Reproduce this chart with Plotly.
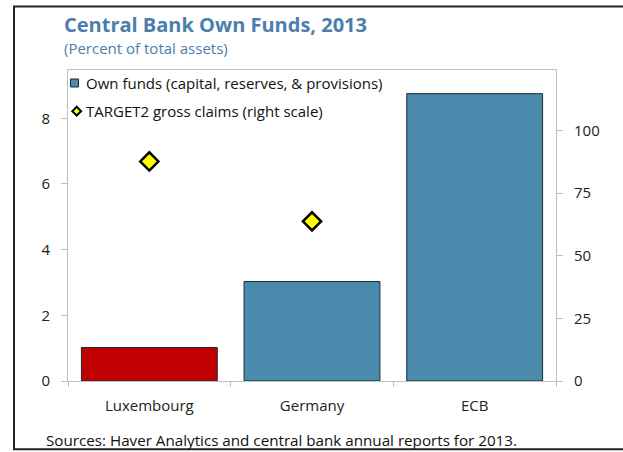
import plotly.graph_objects as go

categories = ["Luxembourg", "Germany", "ECB"]
own_funds = [1.02, 3.03, 8.75]
target2_cats = ["Luxembourg", "Germany"]
target2_claims = [87.6, 63.7]
bar_colors = ["#c00000", "#4a8aad", "#4a8aad"]
legend_labels = ["Own funds (capital, reserves, & provisions)", "TARGET2 gross claims (right scale)"]

W, H = 623, 452
L, R, T, B = 68, 556, 69.5, 380.7
FONT = "Open Sans"

def px(x):
    return (x - L) / (R - L)

def py(y):
    return (B - y) / (B - T)

fig = go.Figure()
fig.add_trace(go.Bar(
    x=categories, y=own_funds, name=legend_labels[0],
    marker=dict(color=bar_colors, line=dict(color="#1f2a30", width=1)),
    width=0.835, yaxis="y", showlegend=False,
))
fig.add_trace(go.Scatter(
    x=target2_cats, y=target2_claims, mode="markers", name=legend_labels[1],
    marker=dict(symbol="diamond", size=14, color="#ffff00", line=dict(color="#000000", width=2.5)),
    yaxis="y2", showlegend=False,
))

fig.update_layout(
    width=W, height=H,
    margin=dict(l=L, r=W - R, t=T, b=H - B),
    paper_bgcolor="white", plot_bgcolor="white",
    font=dict(family=FONT, size=15, color="#222222"),
    showlegend=False,
    xaxis=dict(showline=True, linecolor="#bfbfbf", linewidth=1, mirror=True,
               ticks="outside", tickson="boundaries", ticklen=5, tickcolor="#bfbfbf",
               showgrid=False, tickfont=dict(size=15, color="#222222"), ticklabelstandoff=11),
    yaxis=dict(range=[0, 9.47], tickvals=[0, 2, 4, 6, 8], showgrid=False, zeroline=False,
               showline=True, linecolor="#bfbfbf", linewidth=1,
               ticks="outside", ticklen=6, tickcolor="#bfbfbf",
               tickfont=dict(size=15, color="#222222"), ticklabelstandoff=8),
    yaxis2=dict(range=[0, 124.1], tickvals=[0, 25, 50, 75, 100], overlaying="y", side="right",
                showgrid=False, zeroline=False, showline=True, linecolor="#bfbfbf", linewidth=1,
                ticks="outside", ticklen=6, tickcolor="#bfbfbf",
                tickfont=dict(size=15, color="#222222"), ticklabelstandoff=8),
)

# titles and source
fig.add_annotation(xref="paper", yref="paper", x=px(62), y=py(24), xanchor="left", yanchor="middle",
                   text="<b>Central Bank Own Funds, 2013</b>", showarrow=False,
                   font=dict(family=FONT, size=20, color="#4a7ead"))
fig.add_annotation(xref="paper", yref="paper", x=px(62), y=py(47.5), xanchor="left", yanchor="middle",
                   text="(Percent of total assets)", showarrow=False,
                   font=dict(family=FONT, size=15, color="#4a7ead"))
fig.add_annotation(xref="paper", yref="paper", x=px(44), y=py(440), xanchor="left", yanchor="middle",
                   text="Sources: Haver Analytics and central bank annual reports for 2013.", showarrow=False,
                   font=dict(family=FONT, size=15.2, color="#111111"))

# legend (drawn inside plot area, top-left)
fig.add_shape(type="rect", xref="paper", yref="paper", x0=px(70.5), x1=px(78.5), y0=py(78.5), y1=py(86.5),
              line=dict(color="#1f2a30", width=1), fillcolor="#4a8aad")
cx, cy, r = 76.7, 110.7, 4.4
fig.add_shape(type="path", xref="paper", yref="paper",
              path=f"M {px(cx)} {py(cy - r)} L {px(cx + r)} {py(cy)} L {px(cx)} {py(cy + r)} L {px(cx - r)} {py(cy)} Z",
              line=dict(color="#000000", width=2), fillcolor="#ffff00")
for label, ly in zip(legend_labels, [82.5, 110.7]):
    fig.add_annotation(xref="paper", yref="paper", x=px(84), y=py(ly), xanchor="left", yanchor="middle",
                       text=label, showarrow=False, font=dict(family=FONT, size=15, color="#111111"))

# outer frame: an open path (left, top and bottom edges; right edge lies beyond the picture)
fx0, fx1, fy0, fy1 = 14, 640, 6, 449
fig.add_shape(type="path", xref="paper", yref="paper",
              path=(f"M {px(fx1)} {py(fy0)} L {px(fx0)} {py(fy0)} "
                    f"L {px(fx0)} {py(fy1)} L {px(fx1)} {py(fy1)}"),
              line=dict(color="#222222", width=2))

fig.write_html("out.html", config={"displayModeBar": False},
               post_script="document.body.style.margin='0';")
